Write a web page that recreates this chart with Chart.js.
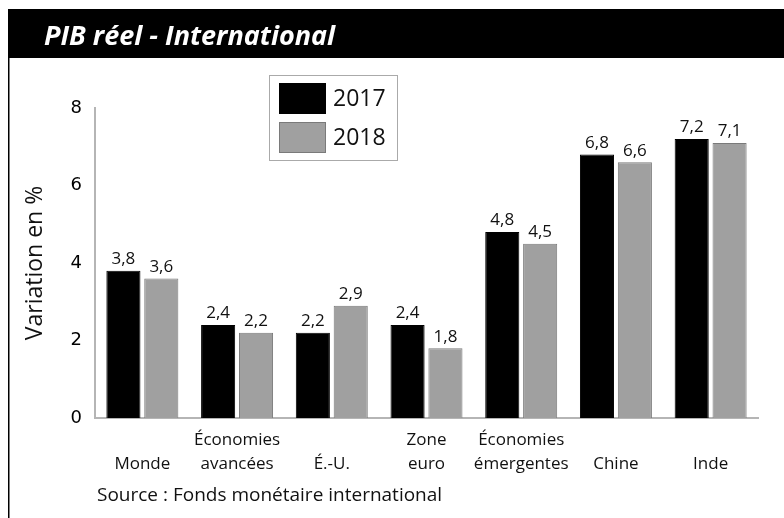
<!DOCTYPE html>
<html>
<head>
<meta charset="utf-8">
<script src="https://cdn.jsdelivr.net/npm/chart.js@4"></script>
<style>
  html, body { margin: 0; padding: 0; background: #fff; }
  #wrap { width: 784px; height: 518px; position: relative; }
</style>
</head>
<body>
<div id="wrap"><canvas id="pib_reel" width="784" height="518"></canvas></div>
<script>
// data
const categories = [
  ['', 'Monde'],
  ['Économies', 'avancées'],
  ['', 'É.-U.'],
  ['Zone', 'euro'],
  ['Économies', 'émergentes'],
  ['', 'Chine'],
  ['', 'Inde']
];
const seriesNames = ['2017', '2018'];
const values2017 = [3.8, 2.4, 2.2, 2.4, 4.8, 6.8, 7.2];
const values2018 = [3.6, 2.2, 2.9, 1.8, 4.5, 6.6, 7.1];
const yTicks = [0, 2, 4, 6, 8];

const labelFont = '"Open Sans", sans-serif';

let ctx = document.getElementById('pib_reel').getContext('2d');
let pib_reel = new Chart(ctx, {
  type: 'bar',
  data: {
    labels: categories,
    datasets: [{
      label: seriesNames[0],
      data: values2017,
      backgroundColor: '#000000',
      borderColor: '#000000',
      borderWidth: 1
    }, {
      label: seriesNames[1],
      data: values2018,
      backgroundColor: '#a0a0a0',
      borderColor: '#7a7a7a',
      borderWidth: 1
    }]
  },
  options: {
    responsive: false,
    animation: false,
    devicePixelRatio: 1,
    layout: { padding: { top: 108, right: 26, bottom: 0, left: 8 } },
    datasets: { bar: { categoryPercentage: 0.8, barPercentage: 0.9 } },
    plugins: {
      legend: { display: false },
      tooltip: { enabled: false }
    },
    scales: {
      x: {
        grid: { display: false, drawTicks: false },
        border: { color: '#b5b5b5', width: 2 },
        ticks: {
          color: '#111',
          font: { family: labelFont, size: 17, lineHeight: 1.4 },
          padding: 10,
          maxRotation: 0,
          autoSkip: false
        },
        afterFit: function (scale) { scale.height = 100; }
      },
      y: {
        min: 0,
        max: 8,
        afterBuildTicks: function (scale) {
          scale.ticks = yTicks.map(v => ({ value: v }));
        },
        grid: { display: false, drawTicks: false },
        border: { color: '#b5b5b5', width: 2 },
        ticks: {
          color: '#000',
          font: { family: '"DejaVu Sans", sans-serif', size: 18 },
          padding: 13
        },
        title: {
          display: true,
          text: 'Variation en %',
          color: '#111',
          font: { family: labelFont, size: 23 },
          padding: { top: 14, bottom: 0 }
        },
        afterFit: function (scale) { scale.width = 87; }
      }
    }
  },
  plugins: [{
    id: 'frame',
    beforeDraw: function (chart) {
      let c = chart.ctx;
      c.save();
      c.fillStyle = '#fff';
      c.fillRect(0, 0, chart.width, chart.height);
      // title bar
      c.fillStyle = '#000';
      c.fillRect(8, 9, chart.width - 8, 49);
      c.fillStyle = '#fff';
      c.font = 'italic bold 27px ' + labelFont;
      c.textBaseline = 'alphabetic';
      c.fillText('PIB réel - International', 44, 45);
      // left rule
      c.strokeStyle = '#000';
      c.lineWidth = 1.5;
      c.beginPath();
      c.moveTo(8.75, 58);
      c.lineTo(8.75, chart.height);
      c.stroke();
      // source
      c.fillStyle = '#111';
      c.font = '19px ' + labelFont;
      c.fillText('Source : Fonds monétaire international', 97, 501);
      c.restore();
    }
  }, {
    id: 'valueLabels',
    afterDatasetsDraw: function (chart) {
      let c = chart.ctx;
      c.save();
      c.fillStyle = '#111';
      c.font = '17px ' + labelFont;
      c.textAlign = 'center';
      c.textBaseline = 'bottom';
      chart.data.datasets.forEach(function (ds, i) {
        chart.getDatasetMeta(i).data.forEach(function (bar, j) {
          c.fillText(ds.data[j].toFixed(1).replace('.', ','), bar.x, bar.y - 3);
        });
      });
      c.restore();
    }
  }, {
    id: 'boxLegend',
    afterDraw: function (chart) {
      let c = chart.ctx;
      c.save();
      c.strokeStyle = '#aaaaaa';
      c.lineWidth = 1;
      c.strokeRect(269.5, 75.5, 128, 85);
      c.font = '23px ' + labelFont;
      c.textBaseline = 'middle';
      chart.data.datasets.forEach(function (ds, i) {
        let y = 83 + i * 39;
        c.fillStyle = ds.backgroundColor;
        c.fillRect(279, y, 47, 31);
        c.strokeStyle = ds.borderColor;
        c.strokeRect(279.5, y + 0.5, 46, 30);
        c.fillStyle = '#111';
        c.fillText(ds.label, 333, y + 16);
      });
      c.restore();
    }
  }]
});
</script>
</body>
</html>
